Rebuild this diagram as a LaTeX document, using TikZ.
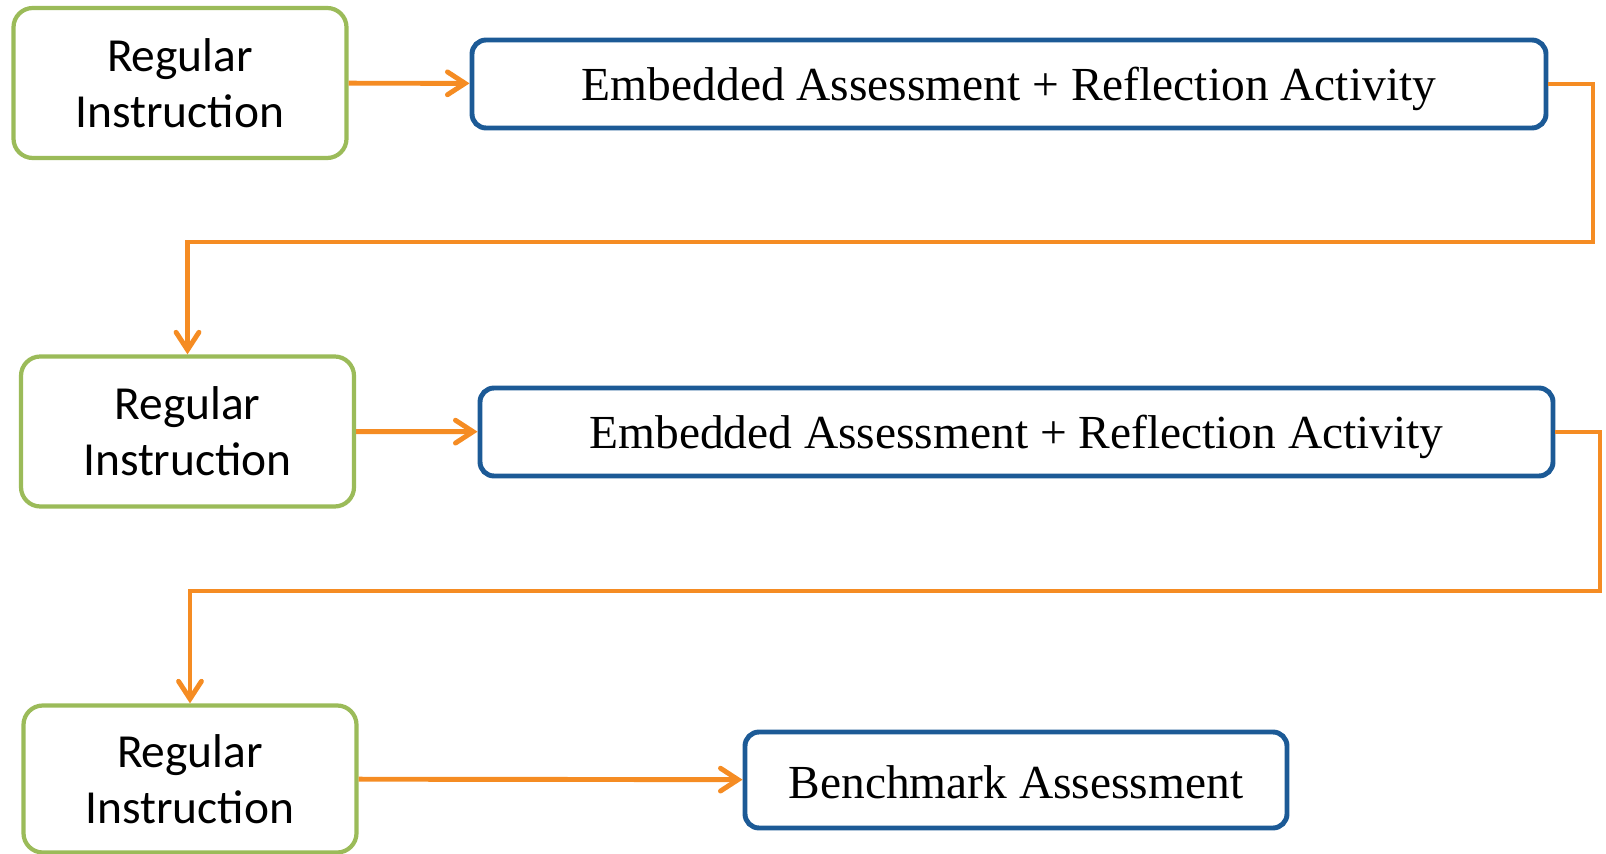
\documentclass[tikz,border=0pt]{standalone}
\usepackage{fontspec}
\setmainfont{Liberation Serif}
\newfontfamily\calibri{Carlito}
\usepackage{tikz}
\usetikzlibrary{arrows.meta}
\definecolor{instgreen}{RGB}{155,187,89}
\definecolor{assessblue}{RGB}{28,90,150}
\definecolor{floworange}{RGB}{245,140,35}
\tikzstyle{instruction} = [
  draw=instgreen,
  line width=2.4pt,
  rectangle,
  rounded corners=11pt,
  minimum width=333*0.02cm,
  minimum height=150*0.02cm,
  inner sep=0pt,
  align=center,
  font=\calibri\fontsize{27}{32}\selectfont,
]
\tikzstyle{assessment} = [
  draw=assessblue,
  line width=2.8pt,
  rectangle,
  rounded corners=8pt,
  minimum height=88*0.02cm,
  text height=61*0.02cm,
  text depth=27*0.02cm,
  inner sep=0pt,
  font=\fontsize{27}{32}\selectfont,
]
\tikzstyle{flow} = [
  draw=floworange,
  line width=2.8pt,
  -{Straight Barb[length=10pt,width=13pt,line cap=round]},
]

\begin{document}
\begin{tikzpicture}[
    x=0.02cm,
    y=-0.02cm,
  ]
  \useasboundingbox (0,0) rectangle (1606,854);
  \node[instruction]
  (inst1) at (180,83) {Regular\\Instruction};
  \node[
    assessment,
    minimum width=1074*0.02cm,
  ](embed1) at (1009,84) {Embedded Assessment + Reflection Activity};
  \node[instruction]
  (inst2) at (187.5,431.5) {Regular\\Instruction};
  \node[
    assessment,
    minimum width=1073*0.02cm,
  ](embed2) at (1016.5,432) {Embedded Assessment + Reflection Activity};
  \node[instruction,
    minimum height=147*0.02cm,
  ](inst3) at (190,779) {Regular\\Instruction};
  \node[
    assessment,
    minimum width=542*0.02cm,
    minimum height=96*0.02cm,
    text height=66*0.02cm,
    text depth=30*0.02cm,
  ](bench) at (1016,780) {Benchmark Assessment};
  \coordinate (turn1) at (1593,242);
  \coordinate (turn2) at (1600,591);
  \path [flow] (inst1) -- (embed1);
  \path [flow] (embed1.east) -| (turn1) -| (inst2.north);
  \path [flow] (inst2) -- (embed2);
  \path [flow] (embed2.east) -| (turn2) -| (inst3.north);
  \path [flow] (inst3) -- (bench);
\end{tikzpicture}
\end{document}
